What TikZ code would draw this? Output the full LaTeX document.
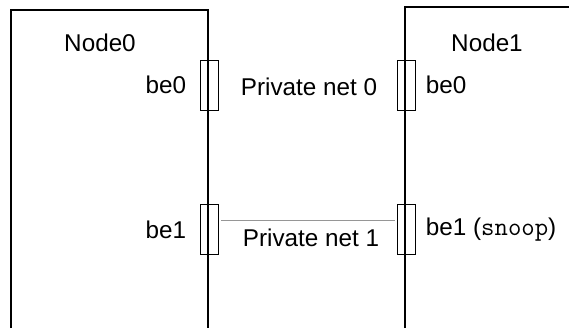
\documentclass[tikz,border=0pt]{standalone}
\usepackage{fontspec}
\setmainfont{Liberation Sans}
\usetikzlibrary{positioning}
\definecolor{netgray}{RGB}{150,150,150}

\tikzset{
  host/.style={line width=0.8pt},
  iface/.style={draw, line width=0.75pt, minimum width=14pt, minimum height=37.5pt, inner sep=0pt},
  lbl/.style={font=\fontsize{18.2}{21}\selectfont, inner sep=1pt},
}

\begin{document}
\begin{tikzpicture}[x=0.75pt, y=-0.75pt]
\useasboundingbox (0,0) rectangle (569,329);

% Hosts
\draw[host] (11,328) -- (11,10) -- (208,10) -- (208,328);
\draw[host] (405,328) -- (405,7) -- (569,7);
\node[lbl] (node0) at (100,43) {Node0};
\node[lbl] (node1) at (487,43) {Node1};

% Interfaces on Node0
\node[iface] (n0be0) at (209.5,85) {};
\node[iface] (n0be1) at (209.5,229.5) {};
\node[lbl, anchor=east, left=9pt of n0be0.west] (l0be0) {be0};
\node[lbl, anchor=east, left=9pt of n0be1.west] (l0be1) {be1};

% Interfaces on Node1
\node[iface] (n1be0) at (406.5,85) {};
\node[iface] (n1be1) at (406.5,229.5) {};
\node[lbl, anchor=west, right=6pt of n1be0.east] (l1be0) {be0};
\node[lbl, anchor=west, right=6pt of n1be1.east] (l1be1) {be1 ({\ttfamily\fontsize{19.5}{21}\selectfont snoop})};

% Private nets
\node[lbl] (net0) at (309,87) {Private net 0};
\draw[netgray, line width=0.75pt, shorten <=1.5pt, shorten >=1.5pt]
  ([yshift=7pt]n0be1.east) -- ([yshift=7pt]n1be1.west);
\node[lbl] (net1) at (311,238) {Private net 1};

\end{tikzpicture}
\end{document}
